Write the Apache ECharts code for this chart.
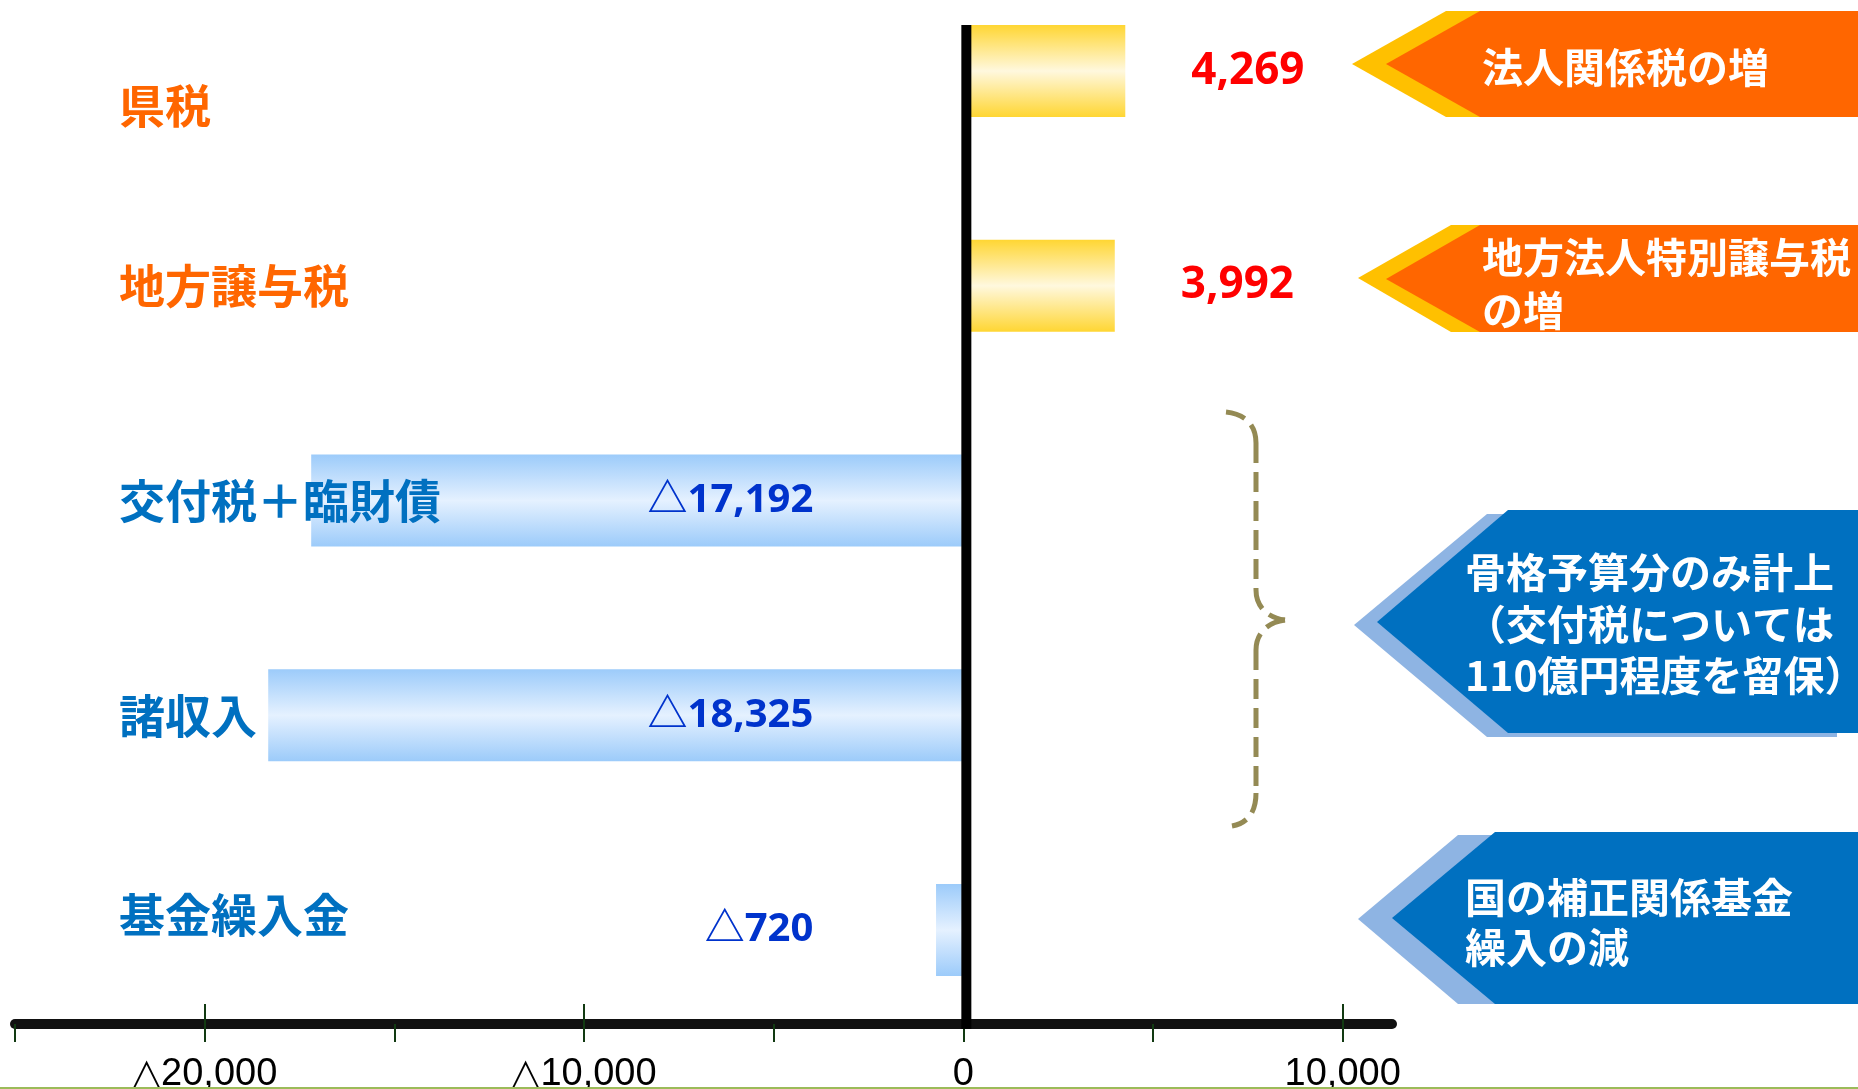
<!DOCTYPE html>
<html>
<head>
<meta charset="utf-8">
<script src="https://cdn.jsdelivr.net/npm/echarts@6/dist/echarts.min.js"></script>
<style>
  html, body { margin: 0; padding: 0; background: #fff; }
  #main { width: 1858px; height: 1089px; }
</style>
</head>
<body>
<div id="main"></div>
<script>
// 県の歳入増減（単位：百万円）
const categories = ['県税', '地方譲与税', '交付税＋臨財債', '諸収入', '基金繰入金']
const values = [4269, 3992, -17192, -18325, -720]
const tickValues = [-25000, -20000, -15000, -10000, -5000, 0, 5000, 10000]
const labelValues = [-20000, -10000, 0, 10000]

const JP = '"Noto Sans CJK JP", "Noto Sans", sans-serif'
const NUM = '"Noto Sans", "Noto Sans CJK JP", sans-serif'
const labelColors = ['#FF6600', '#FF6600', '#0070C0', '#0070C0', '#0070C0']
const BAR_W = 92
const AXIS_OFFSET = 94

function fmt(v) {
  return (v < 0 ? '△' : '') + Math.abs(v).toLocaleString('en-US')
}

const goldGrad = new echarts.graphic.LinearGradient(0, 0, 0, 1, [
  { offset: 0, color: '#FFD633' },
  { offset: 0.5, color: '#FFF8DE' },
  { offset: 1, color: '#FFD633' }
])
const blueGrad = new echarts.graphic.LinearGradient(0, 0, 0, 1, [
  { offset: 0, color: '#9CCBFA' },
  { offset: 0.5, color: '#E5F1FF' },
  { offset: 1, color: '#9CCBFA' }
])

const posLabel = {
  show: true, position: 'right', distance: 66,
  color: '#FF0000', fontFamily: NUM, fontWeight: 'bold', fontSize: 44
}
const negLabel = {
  show: true, position: 'insideRight', distance: 150,
  color: '#0033CC', fontFamily: NUM, fontWeight: 'bold', fontSize: 40
}

const rich = {}
labelColors.forEach(function(c, i) {
  rich['c' + i] = { color: c, fontFamily: JP, fontWeight: 'bold', fontSize: 46 }
})
rich.c0.padding = [70, 0, 0, 0]
rich.c4.padding = [0, 0, 30, 0]

const chart = echarts.init(document.getElementById('main'))

const option = {
  animation: false,
  backgroundColor: '#fff',
  grid: { left: 15, right: 466, top: 71, bottom: 159, outerBoundsMode: 'none', containLabel: false },
  xAxis: [
    {
      type: 'value', min: -25000, max: 11300, position: 'bottom', offset: AXIS_OFFSET,
      splitLine: { show: false },
      axisLine: { show: true, onZero: false, lineStyle: { color: '#111', width: 10 } },
      axisTick: { show: true, customValues: tickValues, length: 18, lineStyle: { color: '#123A12', width: 2 } },
      axisLabel: {
        customValues: labelValues, margin: 32,
        color: '#000', fontFamily: '"Liberation Sans", Arial, sans-serif', fontSize: 38,
        formatter: fmt
      }
    },
    {
      type: 'value', min: -25000, max: 11300, position: 'bottom', offset: AXIS_OFFSET, gridIndex: 0,
      splitLine: { show: false },
      axisLine: { show: false },
      axisTick: { show: true, inside: true, customValues: labelValues, length: 20, lineStyle: { color: '#123A12', width: 2 } },
      axisLabel: { show: false }
    }
  ],
  yAxis: {
    type: 'category', data: categories, inverse: true, boundaryGap: false, z: 10,
    axisLine: { show: false },
    axisTick: { show: false },
    splitLine: { show: false },
    axisLabel: {
      inside: true, margin: 104,
      formatter: function(v, i) { return '{c' + i + '|' + v + '}' },
      rich: rich
    }
  },
  series: [
    {
      type: 'bar',
      barWidth: BAR_W,
      data: values.map(function(v) {
        return {
          value: v,
          itemStyle: { color: v > 0 ? goldGrad : blueGrad },
          label: Object.assign({ formatter: function(p) { return fmt(p.value) } }, v > 0 ? posLabel : negLabel)
        }
      })
    }
  ]
}
chart.setOption(option)

// 0 の縦線と右側の吹き出し
const x0 = chart.convertToPixel({ xAxisIndex: 0 }, 0)
const yTop = chart.convertToPixel({ yAxisIndex: 0 }, categories[0]) - BAR_W / 2
const yBot = chart.convertToPixel({ yAxisIndex: 0 }, categories[categories.length - 1]) + AXIS_OFFSET + 5

function callout(light, dark, lp, dp, text, tx, ty, lh) {
  return [
    { type: 'polygon', shape: { points: lp }, style: { fill: light }, z: 20 },
    { type: 'polygon', shape: { points: dp }, style: { fill: dark }, z: 21 },
    {
      type: 'text', x: tx, y: ty, z: 22,
      style: {
        text: text, fill: '#fff', font: 'bold 41px ' + JP,
        lineHeight: lh, verticalAlign: 'top'
      }
    }
  ]
}

const braceStyle = { fill: 'none', stroke: '#948A54', lineWidth: 5, lineDash: [20, 9] }
const brace = [
  { type: 'bezierCurve', shape: { x1: 1226, y1: 412, cpx1: 1245, cpy1: 414, cpx2: 1256, cpy2: 425, x2: 1256, y2: 443 } },
  { type: 'line', shape: { x1: 1256, y1: 443, x2: 1256, y2: 590 } },
  { type: 'bezierCurve', shape: { x1: 1256, y1: 590, cpx1: 1256, cpy1: 607, cpx2: 1268, cpy2: 618, x2: 1285, y2: 620 } },
  { type: 'bezierCurve', shape: { x1: 1285, y1: 620, cpx1: 1268, cpy1: 622, cpx2: 1256, cpy2: 633, x2: 1256, y2: 650 } },
  { type: 'line', shape: { x1: 1256, y1: 650, x2: 1256, y2: 793 } },
  { type: 'bezierCurve', shape: { x1: 1256, y1: 793, cpx1: 1256, cpy1: 812, cpx2: 1248, cpy2: 823, x2: 1232, y2: 826 } }
].map(function(e) { e.style = braceStyle; e.z = 25; return e })

const g = [
  { type: 'line', z: 30, shape: { x1: x0 + 3, y1: yTop, x2: x0 + 3, y2: yBot }, style: { stroke: '#000', lineWidth: 10 } },
  { type: 'line', z: 30, shape: { x1: 0, y1: 1088, x2: 1858, y2: 1088 }, style: { stroke: '#9BBB59', lineWidth: 2 } }
]
  .concat(brace)
  .concat(callout('#FFC000', '#FF6600',
    [[1352, 64], [1446, 11], [1858, 11], [1858, 117], [1446, 117]],
    [[1386, 64], [1480, 11], [1858, 11], [1858, 117], [1480, 117]],
    '法人関係税の増', 1482, 41, 52))
  .concat(callout('#FFC000', '#FF6600',
    [[1358, 278], [1451, 225], [1858, 225], [1858, 332], [1451, 332]],
    [[1386, 279], [1480, 225], [1858, 225], [1858, 332], [1480, 332]],
    '地方法人特別譲与税\nの増', 1482, 231, 53))
  .concat(callout('#8EB4E3', '#0070C0',
    [[1354, 625], [1487, 514], [1837, 514], [1837, 737], [1487, 737]],
    [[1377, 622], [1508, 510], [1858, 510], [1858, 733], [1508, 733]],
    '骨格予算分のみ計上\n（交付税については\n110億円程度を留保）', 1465, 547, 51.5))
  .concat(callout('#8EB4E3', '#0070C0',
    [[1358, 919], [1458, 835], [1858, 835], [1858, 1004], [1458, 1004]],
    [[1392, 918], [1495, 832], [1858, 832], [1858, 1004], [1495, 1004]],
    '国の補正関係基金\n繰入の減', 1465, 872, 50))

chart.setOption({ graphic: g })
</script>
</body>
</html>
